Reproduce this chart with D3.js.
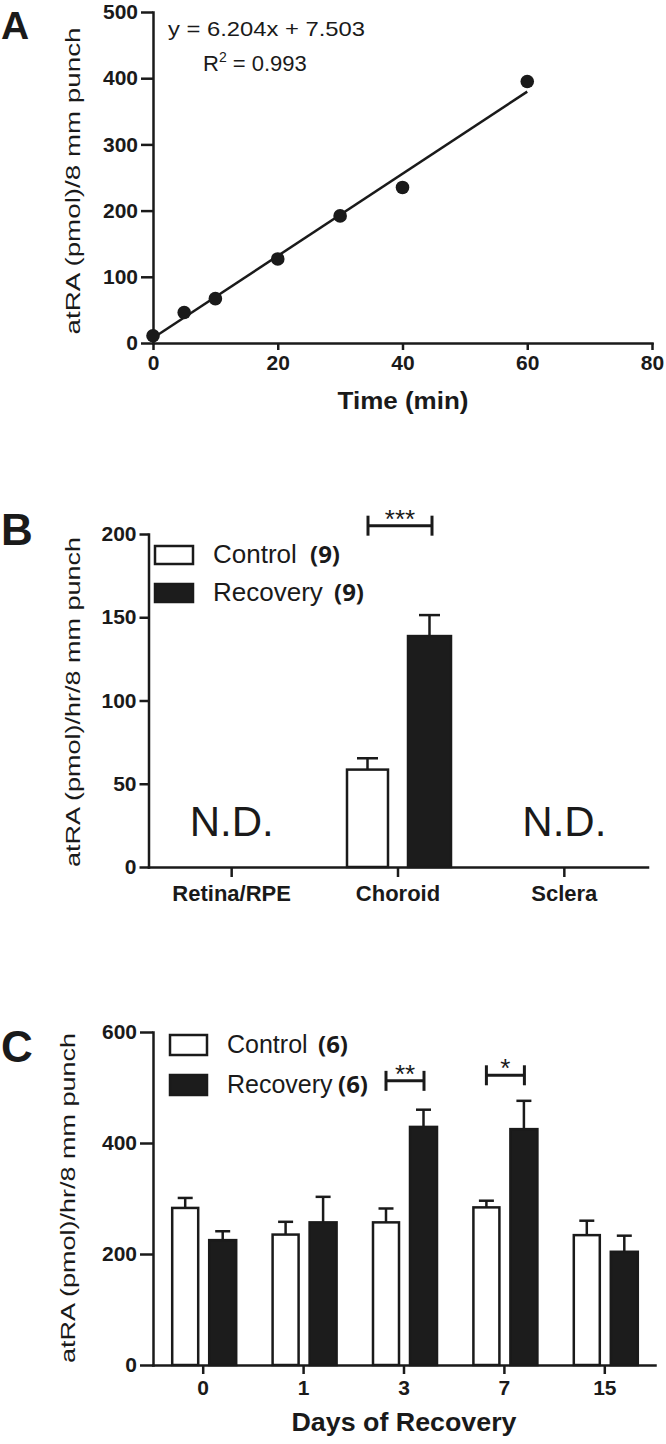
<!DOCTYPE html>
<html>
<head>
<meta charset="utf-8">
<script src="https://cdn.jsdelivr.net/npm/d3@7"></script>
<style>
body { margin: 0; background: #fff; }
svg { display: block; }
text { font-family: "Liberation Sans", Arial, sans-serif; fill: #1a1a1a; }
.tick text { font-weight: bold; font-size: 21px; }
.domain, .tick line { stroke: #1a1a1a; stroke-width: 2.5px; }
.panel-letter { font-weight: bold; font-size: 44px; }
.n-count { font-family: "Open Sans", sans-serif; font-weight: bold; font-size: 24px; }
</style>
</head>
<body>
<script>

// ---------------------------//
//       DATA                 //
// ---------------------------//

// A: atRA vs incubation time
var timeMin = [0, 5, 10, 20, 30, 40, 60];
var atraA   = [11, 46, 67, 127, 192, 235, 395];
var fitSlope = 6.204, fitIntercept = 7.503;
var xTicksA = [0, 20, 40, 60, 80];
var yTicksA = [0, 100, 200, 300, 400, 500];

// B: tissue comparison (null = not detected)
var tissues  = ["Retina/RPE", "Choroid", "Sclera"];
var ctrlB    = [null, 58.5, null];
var ctrlErrB = [null, 6.8, null];
var recB     = [null, 138.7, null];
var recErrB  = [null, 12.6, null];
var yTicksB  = [0, 50, 100, 150, 200];
var sigB     = [{cat: "Choroid", y: 205, label: "***"}];

// C: days of recovery
var days     = ["0", "1", "3", "7", "15"];
var ctrlC    = [283, 235, 257, 284, 234];
var ctrlErrC = [18, 23, 25, 12, 26];
var recC     = [225, 257, 429, 425, 204];
var recErrC  = [16, 46, 31, 51, 29];
var yTicksC  = [0, 200, 400, 600];
var sigC     = [{cat: "3", y: 512, label: "**"}, {cat: "7", y: 522, label: "*"}];

var svg = d3.select("body").append("svg")
    .attr("width", 666)
    .attr("height", 1444);

svg.append("rect").attr("width", 666).attr("height", 1444).attr("fill", "#fff");

function yLabel(txt, x, y, len) {
    svg.append("text")
        .attr("transform", "translate(" + x + "," + y + ") rotate(-90)")
        .attr("text-anchor", "middle")
        .attr("font-size", 21)
        .attr("textLength", len)
        .attr("lengthAdjust", "spacingAndGlyphs")
        .text(txt);
}

function cleanAxis(g) {
    g.select(".domain").attr("stroke-linecap", "square");
}

// ---------------------------//
//       PANEL A              //
// ---------------------------//

var xA = d3.scaleLinear().domain([0, 80]).range([153, 652]);
var yA = d3.scaleLinear().domain([0, 500]).range([343, 12]);

svg.append("g")
    .attr("transform", "translate(0,343)")
    .call(d3.axisBottom(xA).tickValues(xTicksA).tickSize(7).tickSizeOuter(0).tickPadding(5))
    .call(cleanAxis);

svg.append("g")
    .attr("transform", "translate(153,0)")
    .call(d3.axisLeft(yA).tickValues(yTicksA).tickSize(12).tickSizeOuter(0).tickPadding(3))
    .call(cleanAxis);

var fitLine = d3.line()
    .x(function(d) { return xA(d); })
    .y(function(d) { return yA(fitSlope * d + fitIntercept); });

svg.append("path")
    .datum([0, 60])
    .attr("d", fitLine)
    .attr("fill", "none")
    .attr("stroke", "#1a1a1a")
    .attr("stroke-width", 2.5);

svg.append("g")
    .selectAll("circle")
    .data(timeMin)
    .enter()
    .append("circle")
    .attr("cx", function(d) { return xA(d); })
    .attr("cy", function(d, i) { return yA(atraA[i]); })
    .attr("r", 6.8)
    .attr("fill", "#1a1a1a");

svg.append("text")
    .attr("x", 168).attr("y", 36)
    .attr("font-size", 21)
    .attr("textLength", 197)
    .attr("lengthAdjust", "spacingAndGlyphs")
    .text("y = " + fitSlope + "x + " + fitIntercept);

var r2 = svg.append("text")
    .attr("x", 203).attr("y", 71)
    .attr("font-size", 22);
r2.append("tspan").text("R");
r2.append("tspan").attr("font-size", 14).attr("dy", -9).text("2");
r2.append("tspan").attr("dy", 9).text(" = 0.993");

svg.append("text")
    .attr("x", 403).attr("y", 409)
    .attr("text-anchor", "middle")
    .attr("font-weight", "bold")
    .attr("font-size", 24)
    .attr("textLength", 131)
    .attr("lengthAdjust", "spacingAndGlyphs")
    .text("Time (min)");

yLabel("atRA (pmol)/8 mm punch", 80, 181, 307);

svg.append("text").attr("class", "panel-letter").attr("x", 1).attr("y", 39)
    .style("font-size", "39px").text("A");

// ---------------------------//
//       PANEL B              //
// ---------------------------//

var xB = d3.scaleBand().domain(tissues).range([148.5, 647.5]);
var yB = d3.scaleLinear().domain([0, 200]).range([867, 534]);
function cB(d) { return xB(d) + xB.bandwidth() / 2; }

svg.append("g")
    .attr("transform", "translate(0,867)")
    .call(d3.axisBottom(xB).tickSize(10).tickSizeOuter(0).tickPadding(8))
    .call(cleanAxis)
    .selectAll(".tick text").style("font-size", "22px");

svg.append("g")
    .attr("transform", "translate(148.5,0)")
    .call(d3.axisLeft(yB).tickValues(yTicksB).tickSize(9).tickSizeOuter(0).tickPadding(3))
    .call(cleanAxis);

function drawBars(vals, errs, cats, xs, ys, x0, w, fill, capW) {
    var g = svg.append("g");
    cats.forEach(function(c, i) {
        if (vals[i] == null) return;
        var left = xs(c) + x0, mid = left + w / 2;
        g.append("line")
            .attr("x1", mid).attr("x2", mid)
            .attr("y1", ys(vals[i])).attr("y2", ys(vals[i] + errs[i]))
            .attr("stroke", "#1a1a1a").attr("stroke-width", 2.5);
        g.append("line")
            .attr("x1", mid - capW / 2).attr("x2", mid + capW / 2)
            .attr("y1", ys(vals[i] + errs[i])).attr("y2", ys(vals[i] + errs[i]))
            .attr("stroke", "#1a1a1a").attr("stroke-width", 2.5);
        g.append("rect")
            .attr("x", left).attr("width", w)
            .attr("y", ys(vals[i])).attr("height", ys(0) - ys(vals[i]))
            .attr("fill", fill)
            .attr("stroke", "#1a1a1a").attr("stroke-width", 2.5);
    });
}

drawBars(ctrlB, ctrlErrB, tissues, cB, yB, -51, 41, "#fff", 21);
drawBars(recB, recErrB, tissues, cB, yB, 10, 43, "#1c1c1c", 21);

// N.D. labels where nothing was measured
tissues.forEach(function(c, i) {
    if (ctrlB[i] != null) return;
    svg.append("text")
        .attr("x", cB(c)).attr("y", 836)
        .attr("text-anchor", "middle")
        .attr("font-size", 42)
        .text("N.D.");
});

function drawSig(list, xs, ys, offA, offB) {
    list.forEach(function(s) {
        var x1 = xs(s.cat) + offA, x2 = xs(s.cat) + offB, yy = ys(s.y);
        var g = svg.append("g").attr("stroke", "#1a1a1a").attr("stroke-width", 3);
        g.append("line").attr("x1", x1).attr("x2", x2).attr("y1", yy).attr("y2", yy);
        g.append("line").attr("x1", x1).attr("x2", x1).attr("y1", yy - 10).attr("y2", yy + 10);
        g.append("line").attr("x1", x2).attr("x2", x2).attr("y1", yy - 10).attr("y2", yy + 10);
        svg.append("text")
            .attr("x", (x1 + x2) / 2).attr("y", yy + 2)
            .attr("text-anchor", "middle")
            .attr("font-size", 26)
            .text(s.label);
    });
}

drawSig(sigB, cB, yB, -30, 34);

// legend B
svg.append("rect").attr("x", 155).attr("y", 546).attr("width", 38).attr("height", 18)
    .attr("fill", "#fff").attr("stroke", "#1a1a1a").attr("stroke-width", 2.5);
svg.append("rect").attr("x", 155).attr("y", 584).attr("width", 38).attr("height", 18)
    .attr("fill", "#1c1c1c").attr("stroke", "#1a1a1a").attr("stroke-width", 2.5);
svg.append("text").attr("x", 213).attr("y", 563).attr("font-size", 26).text("Control");
svg.append("text").attr("class", "n-count").attr("x", 310).attr("y", 563).text("(9)");
svg.append("text").attr("x", 213).attr("y", 601).attr("font-size", 26).text("Recovery");
svg.append("text").attr("class", "n-count").attr("x", 334).attr("y", 601).text("(9)");

yLabel("atRA (pmol)/hr/8 mm punch", 80, 702, 330);

svg.append("text").attr("class", "panel-letter").attr("x", 1).attr("y", 545).text("B");

// ---------------------------//
//       PANEL C              //
// ---------------------------//

var xC = d3.scaleBand().domain(days).range([153, 655]);
var yC = d3.scaleLinear().domain([0, 600]).range([1365, 1032]);
function cC(d) { return xC(d) + xC.bandwidth() / 2; }

svg.append("g")
    .attr("transform", "translate(0,1365)")
    .call(d3.axisBottom(xC).tickSize(9).tickSizeOuter(0).tickPadding(6))
    .call(cleanAxis);

svg.append("g")
    .attr("transform", "translate(153,0)")
    .call(d3.axisLeft(yC).tickValues(yTicksC).tickSize(13).tickSizeOuter(0).tickPadding(3))
    .call(cleanAxis);

drawBars(ctrlC, ctrlErrC, days, cC, yC, -31, 26, "#fff", 15);
drawBars(recC, recErrC, days, cC, yC, 6, 27, "#1c1c1c", 15);

drawSig(sigC, cC, yC, -18, 20);

// legend C
svg.append("rect").attr("x", 170).attr("y", 1035).attr("width", 37).attr("height", 20)
    .attr("fill", "#fff").attr("stroke", "#1a1a1a").attr("stroke-width", 2.5);
svg.append("rect").attr("x", 170).attr("y", 1075).attr("width", 37).attr("height", 20)
    .attr("fill", "#1c1c1c").attr("stroke", "#1a1a1a").attr("stroke-width", 2.5);
svg.append("text").attr("x", 227).attr("y", 1053).attr("font-size", 25).text("Control");
svg.append("text").attr("class", "n-count").attr("x", 318).attr("y", 1053).text("(6)");
svg.append("text").attr("x", 227).attr("y", 1093).attr("font-size", 25).text("Recovery");
svg.append("text").attr("class", "n-count").attr("x", 338).attr("y", 1093).text("(6)");

svg.append("text")
    .attr("x", 404).attr("y", 1431)
    .attr("text-anchor", "middle")
    .attr("font-weight", "bold")
    .attr("font-size", 26)
    .attr("textLength", 225)
    .attr("lengthAdjust", "spacingAndGlyphs")
    .text("Days of Recovery");

yLabel("atRA (pmol)/hr/8 mm punch", 75, 1198, 330);

svg.append("text").attr("class", "panel-letter").attr("x", 1).attr("y", 1062).text("C");

</script>
</body>
</html>
